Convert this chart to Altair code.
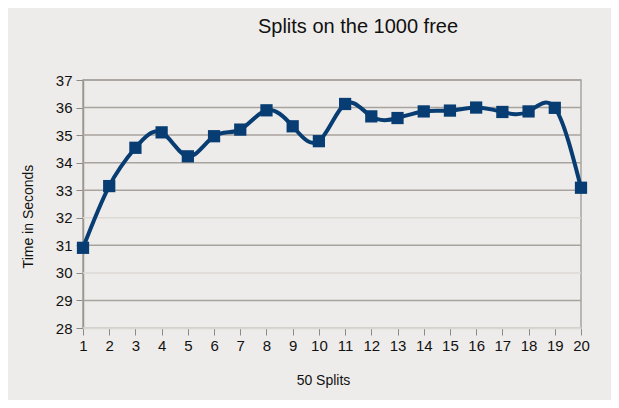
import altair as alt
import pandas as pd

splits = list(range(1, 21))
times = [30.91, 33.15, 34.54, 35.10, 34.23, 34.96, 35.20, 35.90, 35.32, 34.78,
         36.13, 35.68, 35.62, 35.86, 35.89, 36.00, 35.84, 35.86, 35.99, 33.09]
y_ticks = [28, 29, 30, 31, 32, 33, 34, 35, 36, 37]

df = pd.DataFrame({"split": splits, "time": times})
grid_df = pd.DataFrame({"v": y_ticks})

FONT = "Liberation Sans"
NAVY = "#073d72"

x_scale = alt.Scale(domain=[1, 20], nice=False, zero=False)
y_scale = alt.Scale(domain=[28, 37], nice=False, zero=False)

x_axis = alt.Axis(values=splits, title="50 Splits", grid=False,
                  labelOverlap=False, labelFlush=False,
                  labelFontSize=15, labelFont=FONT, labelColor="#111",
                  tickSize=7, tickColor="#8f8a85", labelPadding=3,
                  domainColor="#d8d4d0", domainWidth=1.5,
                  titleFont=FONT, titleFontSize=14,
                  titleFontWeight="normal", titleColor="#111",
                  titleX=240, titleY=52, titleBaseline="middle",
                  titleAlign="center")
y_axis = alt.Axis(values=y_ticks, title="Time in Seconds", grid=False,
                  labelOverlap=False, labelFlush=False,
                  labelFontSize=15, labelFont=FONT, labelColor="#111",
                  tickSize=7, tickColor="#8f8a85", labelPadding=4,
                  domainColor="#9a9590", domainWidth=1.5,
                  titleFont=FONT, titleFontSize=14, titleFontWeight="normal",
                  titleColor="#111", titleAngle=-90, titleX=-55, titleY=136,
                  titleBaseline="middle", titleAlign="center")

grid = alt.Chart(grid_df).mark_rule(strokeWidth=1.5).encode(
    y=alt.Y("v:Q", scale=y_scale, axis=y_axis),
    color=alt.condition("datum.v == 28 || datum.v == 30 || datum.v == 32",
                        alt.value("#dcd8d4"), alt.value("#a8a39e")))

base = alt.Chart(df)
line = base.mark_line(interpolate="natural", color=NAVY, strokeWidth=4).encode(
    x=alt.X("split:Q", scale=x_scale, axis=x_axis),
    y=alt.Y("time:Q", scale=y_scale, axis=y_axis))
pts = base.mark_point(shape="square", filled=True, size=150, color=NAVY, opacity=1).encode(
    x=alt.X("split:Q", scale=x_scale, axis=x_axis),
    y=alt.Y("time:Q", scale=y_scale, axis=y_axis))

chart = alt.layer(grid, line, pts).properties(
    width=498, height=248,
    autosize="none",
    padding={"left": 75, "top": 72, "right": 30, "bottom": 72},
    background="#eeecea",
    title=alt.TitleParams("Splits on the 1000 free", font=FONT, fontSize=20,
                          fontWeight="normal", color="#111", frame="group",
                          anchor="middle", baseline="alphabetic", offset=20, dx=26),
).configure_view(stroke="#a8a39e", strokeWidth=1.5)

chart.save("out.html", embed_options={"renderer": "svg", "actions": False})
